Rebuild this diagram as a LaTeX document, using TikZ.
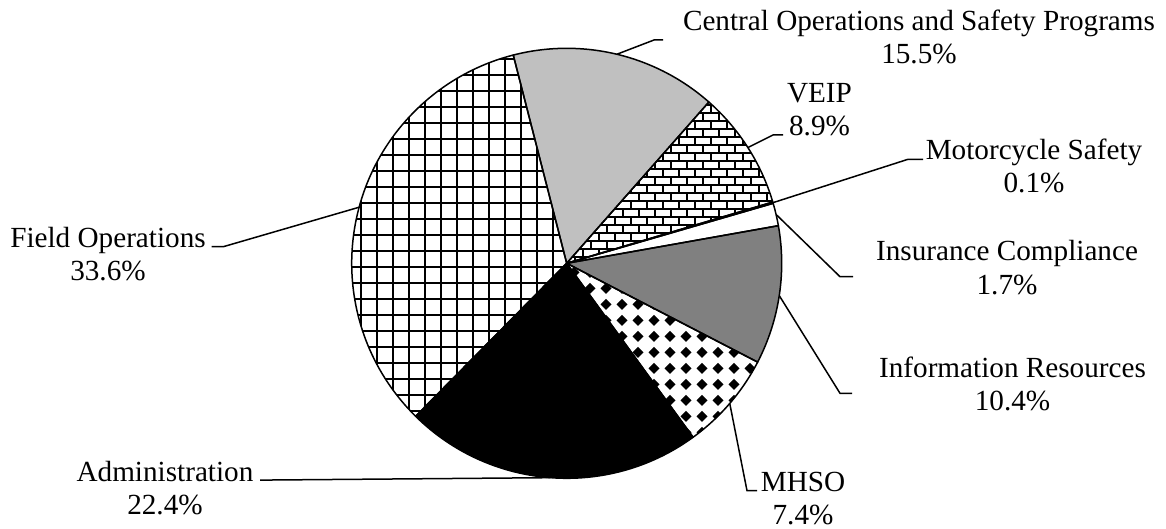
\documentclass[tikz,border=0pt]{standalone}
\usepackage{fontspec}
\setmainfont{Liberation Serif}
\usetikzlibrary{calc}
\definecolor{lgray}{RGB}{192,192,192}
\definecolor{mgray}{RGB}{128,128,128}
\tikzset{
  slice/.style={draw=black, line width=1.5pt, line join=round},
  lead/.style={draw=black, line width=1.5pt},
  lbl/.style={font=\fontsize{29.2}{33}\selectfont, align=center, inner sep=0pt, anchor=base}
}
\begin{document}
\begin{tikzpicture}[x=1pt,y=1pt]
\useasboundingbox (0,0) rectangle (1166,-529);
\fill[white] (0,0) rectangle (1166,-529);
\coordinate (c) at (566.7,-263.3);
\def\R{215}
% ---- fills (clockwise from 104.4 deg) ----
% Central Operations and Safety Programs
\fill[lgray] (c) -- ($(c)+(104.4:\R)$) arc[start angle=104.4, end angle=48.6, radius=\R] -- cycle;
% VEIP: horizontal brick
\begin{scope}
  \clip (c) -- ($(c)+(48.6:\R)$) arc[start angle=48.6, end angle=16.56, radius=\R] -- cycle;
  \fill[white] (550,-40) rectangle (790,-275);
  \foreach \k in {0,...,29} {
    \fill (550,-40-8*\k) rectangle ++(240,-2);
    \pgfmathsetmacro\off{mod(\k,2)*8}
    \foreach \j in {0,...,15} \fill ({550+16*\j+\off},{-42-8*\k}) rectangle ++(2,-6);
  }
\end{scope}
% Motorcycle Safety, Insurance Compliance
\fill[white] (c) -- ($(c)+(16.56:\R)$) arc[start angle=16.56, end angle=10.08, radius=\R] -- cycle;
% Information Resources
\fill[mgray] (c) -- ($(c)+(10.08:\R)$) arc[start angle=10.08, end angle=-27.36, radius=\R] -- cycle;
% MHSO: solid diamonds
\begin{scope}
  \clip (c) -- ($(c)+(-27.36:\R)$) arc[start angle=-27.36, end angle=-54.0, radius=\R] -- cycle;
  \fill[white] (555,-250) rectangle (790,-450);
  \foreach \i in {0,...,14} \foreach \j in {0,...,12}
    \fill ({558+16*\i},{-256.3-16*\j+5.5}) -- ++(5.5,-5.5) -- ++(-5.5,-5.5) -- ++(-5.5,5.5) -- cycle;
\end{scope}
% Administration
\fill[black] (c) -- ($(c)+(-54.0:\R)$) arc[start angle=-54.0, end angle=-134.64, radius=\R] -- cycle;
% Field Operations: large grid
\begin{scope}
  \clip (c) -- ($(c)+(-134.64:\R)$) arc[start angle=-134.64, end angle=-255.6, radius=\R] -- cycle;
  \fill[white] (340,-30) rectangle (580,-490);
  \foreach \k in {0,...,15} \fill ({343.7+16*\k},-30) rectangle ++(2,-460);
  \foreach \k in {0,...,29} \fill (340,{-25.7-16*\k}) rectangle ++(240,-2);
\end{scope}
% ---- outlines ----
\path[slice] (c) -- ($(c)+(104.4:\R)$) arc[start angle=104.4, end angle=48.6, radius=\R] -- cycle;
\path[slice] (c) -- ($(c)+(48.6:\R)$) arc[start angle=48.6, end angle=16.56, radius=\R] -- cycle;
\path[slice] (c) -- ($(c)+(16.56:\R)$) arc[start angle=16.56, end angle=16.2, radius=\R] -- cycle;
\path[slice] (c) -- ($(c)+(16.2:\R)$) arc[start angle=16.2, end angle=10.08, radius=\R] -- cycle;
\path[slice] (c) -- ($(c)+(10.08:\R)$) arc[start angle=10.08, end angle=-27.36, radius=\R] -- cycle;
\path[slice] (c) -- ($(c)+(-27.36:\R)$) arc[start angle=-27.36, end angle=-54.0, radius=\R] -- cycle;
\path[slice] (c) -- ($(c)+(-54.0:\R)$) arc[start angle=-54.0, end angle=-134.64, radius=\R] -- cycle;
\path[slice] (c) -- ($(c)+(-134.64:\R)$) arc[start angle=-134.64, end angle=-255.6, radius=\R] -- cycle;
% leader end points on the pie
\coordinate (eCentral) at ($(c)+(76.5:\R)$);
\coordinate (eVEIP) at ($(c)+(32.58:\R)$);
\coordinate (eMoto) at ($(c)+(16.38:\R)$);
\coordinate (eIns) at ($(c)+(13.14:\R)$);
\coordinate (eInfo) at ($(c)+(-8.64:\R)$);
\coordinate (eMHSO) at ($(c)+(-40.68:\R)$);
\coordinate (eAdmin) at ($(c)+(-94.32:\R)$);
\coordinate (eField) at ($(c)+(164.88:\R)$);
% labels (anchor = baseline of the last line)
\node[lbl] (lCentral) at (919,-63.5) {Central Operations and Safety Programs\\15.5\%};
\node[lbl] (lVEIP) at (819.5,-135.5) {VEIP\\8.9\%};
\node[lbl] (lMoto) at (1034,-193) {Motorcycle Safety\\0.1\%};
\node[lbl] (lIns) at (1007,-294) {Insurance Compliance\\1.7\%};
\node[lbl] (lInfo) at (1012.5,-410.5) {Information Resources\\10.4\%};
\node[lbl] (lMHSO) at (803,-524) {MHSO\\7.4\%};
\node[lbl] (lAdmin) at (165,-514) {Administration\\22.4\%};
\node[lbl] (lField) at (108,-280) {Field Operations\\33.6\%};
% leader start points and elbows
\coordinate (sCentral) at (663,-40);    \coordinate (kCentral) at (654,-40);
\coordinate (sVEIP) at (783,-135);      \coordinate (kVEIP) at (773,-135);
\coordinate (sMoto) at (923,-159.3);    \coordinate (kMoto) at (908,-159.3);
\coordinate (sIns) at (853,-276.7);     \coordinate (kIns) at (840,-276.7);
\coordinate (sInfo) at (852,-393.3);    \coordinate (kInfo) at (840,-393.3);
\coordinate (sMHSO) at (757,-490.7);    \coordinate (kMHSO) at (747,-490.7);
\coordinate (sAdmin) at (260,-480);     \coordinate (kAdmin) at (272,-480);
\coordinate (sField) at (211.7,-246.7); \coordinate (kField) at (223.3,-246.7);
\draw[lead] (sCentral) -- (kCentral) -- (eCentral);
\draw[lead] (sVEIP) -- (kVEIP) -- (eVEIP);
\draw[lead] (sMoto) -- (kMoto) -- (eMoto);
\draw[lead] (sIns) -- (kIns) -- (eIns);
\draw[lead] (sInfo) -- (kInfo) -- (eInfo);
\draw[lead] (sMHSO) -- (kMHSO) -- (eMHSO);
\draw[lead] (sAdmin) -- (kAdmin) -- (eAdmin);
\draw[lead] (sField) -- (kField) -- (eField);
\end{tikzpicture}
\end{document}
